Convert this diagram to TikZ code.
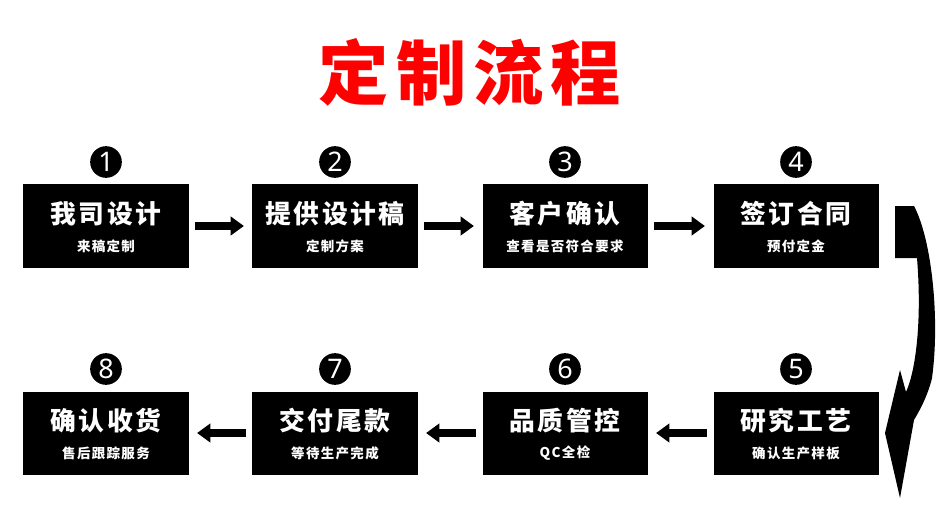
\documentclass[tikz,border=0pt]{standalone}
\usepackage{fontspec}
\newfontfamily\cjk{Noto Sans CJK SC}
\newfontfamily\cjkwide{Noto Sans CJK SC}[LetterSpace=10]
\newfontfamily\numfont{Noto Sans}
\usetikzlibrary{arrows.meta}

\begin{document}
\begin{tikzpicture}[x=0.03cm, y=-0.03cm,
	stepbox/.style={fill=black, minimum width=4.95cm, minimum height=2.49cm, inner sep=0pt},
	maintext/.style={text=white, font=\cjkwide\bfseries\fontsize{22}{22}\selectfont},
	subtext/.style={text=white, font=\cjkwide\bfseries\fontsize{11.5}{12}\selectfont},
	badge/.style={circle, fill=black, minimum size=0.95cm, inner sep=0pt, text=white, font=\numfont\bfseries\fontsize{23}{23}\selectfont},
	flow/.style={line width=0.24cm, -{Triangle[length=0.4cm, width=0.55cm]}, shorten <=0.2cm, shorten >=0.25cm}]
	% Frame
	\useasboundingbox (0,0) rectangle (952,507);

	% Title
	\node[text=red, font=\cjkwide\bfseries\fontsize{60}{60}\selectfont] (title) at (470,72) {定制流程};

	% Steps
	\foreach \n/\x/\y/\main/\sub in {
		1/106/226/我司设计/来稿定制,
		2/335/226/提供设计稿/定制方案,
		3/565/226/客户确认/查看是否符合要求,
		4/796/226/签订合同/预付定金,
		5/796/433/研究工艺/确认生产样板,
		6/565/433/品质管控/QC全检,
		7/335/433/交付尾款/等待生产完成,
		8/106/433/确认收货/售后跟踪服务} {
		\node[stepbox] (S\n) at (\x,\y) {};
		\node[maintext] (M\n) at (\x,\y-12) {\main};
		\node[subtext] (T\n) at (\x,\y+20) {\sub};
		\node[badge] (B\n) at (\x,\y-64) {\n};
	}

	% Arrows
	\foreach \a/\b in {1/2, 2/3, 3/4, 5/6, 6/7, 7/8}
	\draw[flow] (S\a) -- (S\b);

	% Turning arrow
	\fill (895,206) -- (914,206)
		.. controls (932,240) and (940,320) .. (932,378)
		.. controls (928,395) and (920,410) .. (914,420)
		-- (900,498) -- (885,433) -- (900,370)
		-- (906,392)
		.. controls (916,370) and (922,320) .. (917,258)
		-- (895,258) -- cycle;
\end{tikzpicture}
\end{document}
